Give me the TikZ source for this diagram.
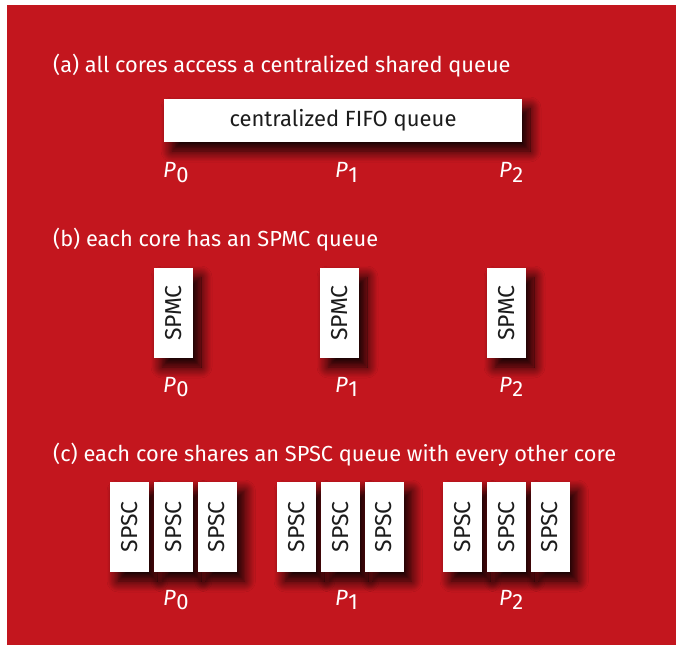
\documentclass[tikz,border=0pt]{standalone}
\usepackage{fontspec}
\setmainfont{Fira Sans}
\usetikzlibrary{shadows.blur}

\definecolor{slidered}{RGB}{195,22,30}
\definecolor{boxink}{RGB}{28,28,28}

\newcommand{\proc}[1]{\textit{P}\kern0.5pt\raisebox{-0.22em}{#1}}

\begin{document}
\begin{tikzpicture}[x=1pt,y=-1pt]
	\tikzstyle{qbox}=[rectangle, fill=white, inner sep=0pt, text=boxink, font=\fontsize{22}{26}\selectfont,
		blur shadow={shadow xshift=8pt, shadow yshift=-9pt, shadow blur radius=11pt, shadow opacity=95, shadow blur steps=14}]
	\tikzstyle{vbox}=[qbox, minimum width=39pt, minimum height=90pt, font=\fontsize{23}{26}\selectfont]
	\tikzstyle{caption}=[anchor=base west, inner sep=0pt, text=white, font=\fontsize{21.8}{26}\selectfont]
	\tikzstyle{plabel}=[anchor=base west, inner sep=0pt, text=white, font=\fontsize{22}{26}\selectfont]

	\useasboundingbox (0,0) rectangle (676,644);
	\fill[slidered] (7,5) rectangle (682,650);

	% (a)
	\node[caption] (capa) at (53,73) {(a) all cores access a centralized shared queue};
	\node[qbox, minimum width=358pt, minimum height=43pt] (fifo) at (343,120.5) {centralized FIFO queue};
	\node[plabel] (pa0) at (163,178) {\proc{0}};
	\node[plabel] (pa1) at (335,178) {\proc{1}};
	\node[plabel] (pa2) at (499,178) {\proc{2}};

	% (b)
	\node[caption] (capb) at (53,246) {(b) each core has an SPMC queue};
	\node[vbox] (spmc0) at (173.5,313) {\rotatebox{90}{SPMC}};
	\node[vbox] (spmc1) at (339.5,313) {\rotatebox{90}{SPMC}};
	\node[vbox] (spmc2) at (506.5,313) {\rotatebox{90}{SPMC}};
	\node[plabel] (pb0) at (163,392) {\proc{0}};
	\node[plabel] (pb1) at (335,392) {\proc{1}};
	\node[plabel] (pb2) at (499,392) {\proc{2}};

	% (c)
	\node[caption] (capc) at (53,461) {(c) each core shares an SPSC queue with every other core};
	\foreach \g/\x in {0/129.5, 1/296.5, 2/462.5}{
		\node[vbox] (spsc\g a) at (\x,527) {\rotatebox{90}{SPSC}};
		\node[vbox] (spsc\g b) at (\x+44,527) {\rotatebox{90}{SPSC}};
		\node[vbox] (spsc\g c) at (\x+87.5,527) {\rotatebox{90}{SPSC}};
	}
	\node[plabel] (pc0) at (163,605) {\proc{0}};
	\node[plabel] (pc1) at (335,605) {\proc{1}};
	\node[plabel] (pc2) at (499,605) {\proc{2}};
\end{tikzpicture}
\end{document}
